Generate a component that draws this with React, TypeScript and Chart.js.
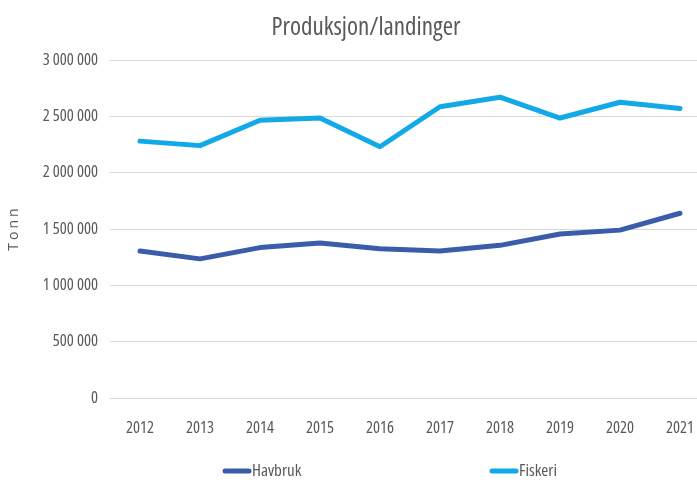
import React, { useEffect, useRef } from "react";
import { Chart, registerables } from "chart.js";

Chart.register(...registerables);

const titleText = "Produksjon/landinger";
const yTitle = "Tonn";
const years = ["2012", "2013", "2014", "2015", "2016", "2017", "2018", "2019", "2020", "2021"];
const havbruk = [1305000, 1235000, 1335000, 1375000, 1325000, 1305000, 1355000, 1455000, 1490000, 1640000];
const fiskeri = [2280000, 2240000, 2465000, 2485000, 2230000, 2585000, 2670000, 2485000, 2625000, 2570000];
const seriesNames = ["Havbruk", "Fiskeri"];
const seriesColors = ["#3A5CAB", "#12A9E8"];

const FONT = "'Open Sans', sans-serif";
const TEXT = "#595959";

const fmt = (v: number) => String(Math.round(v)).replace(/\B(?=(\d{3})+(?!\d))/g, " ");

const decorPlugin = {
  id: "decor",
  afterDraw(chart: any) {
    const ctx = chart.ctx as CanvasRenderingContext2D;
    ctx.save();
    ctx.fillStyle = TEXT;
    ctx.font = `25px ${FONT}`;
    (ctx as any).fontStretch = "condensed";
    ctx.textAlign = "center";
    ctx.textBaseline = "middle";
    ctx.fillText(titleText, 366, 28);
    // y title
    ctx.save();
    ctx.translate(14, 228);
    ctx.rotate(-Math.PI / 2);
    ctx.font = `14px ${FONT}`;
    (ctx as any).fontStretch = "normal";
    (ctx as any).letterSpacing = "3px";
    ctx.textAlign = "center";
    ctx.fillText(yTitle, 0, 0);
    ctx.restore();
    // legend
    const legendX = [223, 490];
    ctx.font = `17px ${FONT}`;
    (ctx as any).fontStretch = "condensed";
    ctx.textAlign = "left";
    seriesNames.forEach((name, i) => {
      const x = legendX[i];
      const y = 471;
      ctx.strokeStyle = seriesColors[i];
      ctx.lineWidth = 5;
      ctx.lineCap = "round";
      ctx.beginPath();
      ctx.moveTo(x + 2, y);
      ctx.lineTo(x + 26, y);
      ctx.stroke();
      ctx.fillStyle = TEXT;
      ctx.fillText(name, x + 29, y);
    });
    ctx.restore();
  },
};

export default function App() {
  const ref = useRef<HTMLCanvasElement>(null);
  useEffect(() => {
    if (!ref.current) return;
    const chart = new Chart(ref.current, {
      type: "line",
      data: {
        labels: years,
        datasets: [
          {
            label: seriesNames[0],
            data: havbruk,
            borderColor: seriesColors[0],
            backgroundColor: seriesColors[0],
            borderWidth: 5,
            pointRadius: 0,
            tension: 0,
            borderJoinStyle: "round",
            borderCapStyle: "round",
          },
          {
            label: seriesNames[1],
            data: fiskeri,
            borderColor: seriesColors[1],
            backgroundColor: seriesColors[1],
            borderWidth: 5,
            pointRadius: 0,
            tension: 0,
            borderJoinStyle: "round",
            borderCapStyle: "round",
          },
        ],
      },
      options: {
        animation: false,
        responsive: true,
        maintainAspectRatio: false,
        layout: { padding: { top: 60, right: 7, bottom: 0, left: 0 } },
        plugins: {
          legend: { display: false },
          title: { display: false },
          tooltip: { enabled: false },
        },
        scales: {
          x: {
            offset: true,
            grid: { display: false, drawTicks: false },
            border: { display: false },
            ticks: { color: TEXT, font: { family: FONT, size: 16.5, weight: "normal condensed" as any }, padding: 20, maxRotation: 0 },
            afterFit: (s: any) => {
              s.height = 87;
            },
          },
          y: {
            min: 0,
            max: 3000000,
            ticks: {
              stepSize: 500000,
              color: TEXT,
              font: { family: FONT, size: 16.5, weight: "normal condensed" as any },
              padding: 12,
              callback: (v: any) => fmt(Number(v)),
            },
            grid: { color: "#d9d9d9", lineWidth: 1, drawTicks: false },
            border: { display: false },
            afterFit: (s: any) => {
              s.width = 110;
            },
          },
        },
      },
      plugins: [decorPlugin],
    });
    return () => chart.destroy();
  }, []);
  return (
    <div style={{ position: "fixed", left: 0, top: 0, width: 717, height: 485, background: "#fff" }}>
      <canvas ref={ref} />
    </div>
  );
}
